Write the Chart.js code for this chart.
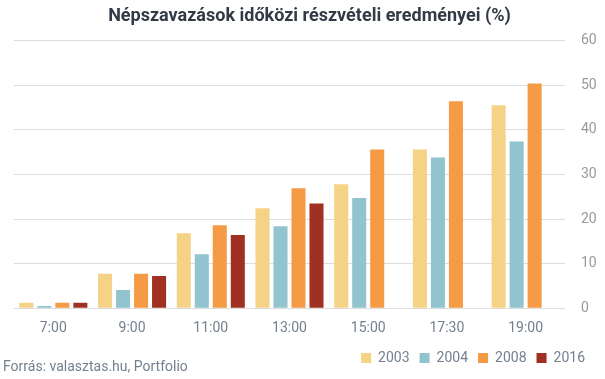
<!DOCTYPE html>
<html>
<head>
<meta charset="utf-8">
<script src="https://cdn.jsdelivr.net/npm/chart.js@4/dist/chart.umd.min.js"></script>
<style>
  html, body { margin: 0; padding: 0; background: #fff; }
  #wrap { position: relative; width: 605px; height: 379px; }
  #src { position: absolute; left: 3px; top: 358px; font-family: Roboto, sans-serif; font-size: 14px; color: #74808f; }
</style>
</head>
<body>
<div id="wrap">
  <canvas id="c" width="605" height="379"></canvas>
  <div id="src">Forrás: valasztas.hu, Portfolio</div>
</div>
<script>
const categories = ["7:00", "9:00", "11:00", "13:00", "15:00", "17:30", "19:00"];
const s2003 = [1.2, 7.7, 16.8, 22.4, 27.8, 35.6, 45.5];
const s2004 = [0.5, 4.1, 12.1, 18.4, 24.7, 33.8, 37.4];
const s2008 = [1.2, 7.7, 18.6, 26.9, 35.6, 46.4, 50.4];
const s2016 = [1.2, 7.2, 16.4, 23.5, null, null, null];
const seriesNames = ["2003", "2004", "2008", "2016"];
const colors = ["#f4d386", "#91c4cf", "#f59b46", "#a03022"];
const yTicks = [0, 10, 20, 30, 40, 50, 60];

const allSeries = [s2003, s2004, s2008, s2016];

const legendShift = {
  id: 'legendShift',
  afterLayout(chart) {
    if (chart.legend) { chart.legend.right -= 10; }
  }
};

new Chart(document.getElementById('c'), {
  type: 'bar',
  data: {
    labels: categories,
    datasets: allSeries.map((d, i) => ({
      label: seriesNames[i],
      data: d,
      backgroundColor: colors[i],
      borderWidth: 0,
      barPercentage: 0.78,
      categoryPercentage: 0.915
    }))
  },
  plugins: [legendShift],
  options: {
    responsive: false,
    animation: false,
    layout: { padding: { left: 14, right: 0, top: 0, bottom: 4 } },
    plugins: {
      title: {
        display: true,
        text: 'Népszavazások időközi részvételi eredményei (%)',
        color: '#333a45',
        font: { family: 'Roboto', size: 18, weight: 'bold' },
        padding: { top: 6, bottom: 13 }
      },
      legend: {
        position: 'bottom',
        align: 'end',
        labels: {
          boxWidth: 10,
          boxHeight: 10,
          color: '#74808f',
          font: { family: 'Roboto', size: 14 },
          padding: 10
        }
      },
      tooltip: { enabled: false }
    },
    scales: {
      x: {
        grid: { display: false },
        border: { display: false },
        ticks: { color: '#74808f', font: { family: 'Roboto', size: 14 }, padding: 4 }
      },
      y: {
        position: 'right',
        min: 0, max: 60,
        afterBuildTicks: ax => { ax.ticks = yTicks.map(v => ({ value: v })); },
        afterFit: ax => { ax.width = 40; },
        grid: { color: '#dddddd', lineWidth: 1, drawTicks: false },
        border: { display: false },
        ticks: { color: '#999999', font: { family: 'Roboto', size: 14 }, padding: 16 }
      }
    }
  }
});
</script>
</body>
</html>
